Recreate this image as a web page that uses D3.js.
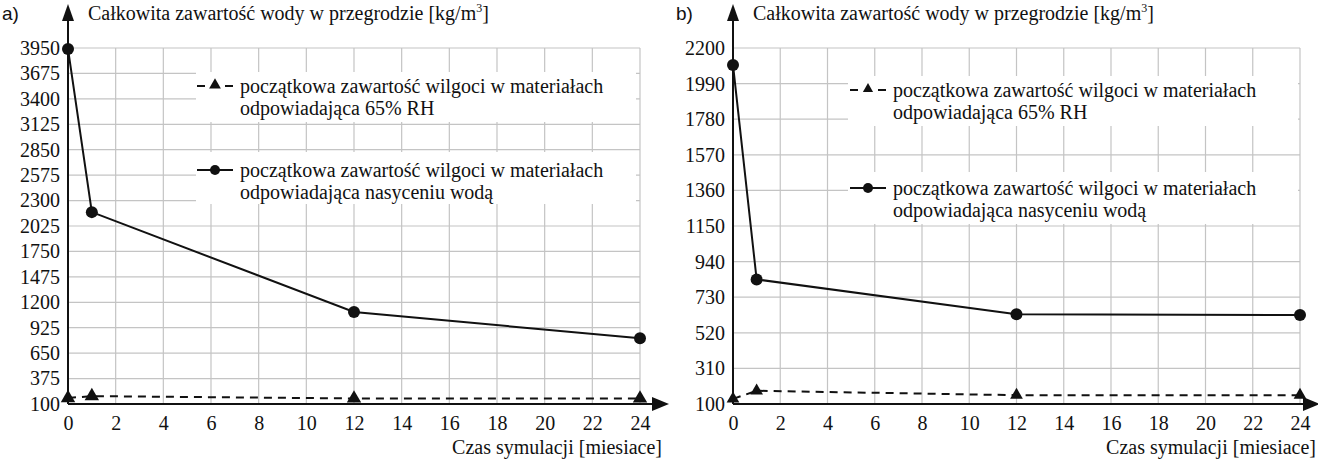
<!DOCTYPE html>
<html>
<head>
<meta charset="utf-8">
<script src="https://cdn.jsdelivr.net/npm/d3@7"></script>
<style>
  html, body { margin: 0; padding: 0; background: #fff; }
  svg { display: block; }
  .serif { font-family: "Liberation Serif", "Times New Roman", "DejaVu Serif", serif; }
</style>
</head>
<body>
<svg id="chart" width="1318" height="460"></svg>
<script>
// ---- data ----
const months = [0, 1, 12, 24];
const xTicks = [0, 2, 4, 6, 8, 10, 12, 14, 16, 18, 20, 22, 24];

const saturatedA = [3940, 2175, 1095, 810];
const rh65A = [165, 185, 160, 160];
const yTicksA = [100, 375, 650, 925, 1200, 1475, 1750, 2025, 2300, 2575, 2850, 3125, 3400, 3675, 3950];

const saturatedB = [2100, 835, 630, 625];
const rh65B = [130, 178, 152, 152];
const yTicksB = [100, 310, 520, 730, 940, 1150, 1360, 1570, 1780, 1990, 2200];

const panelLabels = ["a)", "b)"];
const yTitle = "Całkowita zawartość wody w przegrodzie [kg/m";
const yTitleSup = "3";
const xTitle = "Czas symulacji [miesiace]";
const legendRH = ["początkowa zawartość wilgoci w materiałach", "odpowiadająca 65% RH"];
const legendSat = ["początkowa zawartość wilgoci w materiałach", "odpowiadająca nasyceniu wodą"];

const SERIF = '"Liberation Serif", "Times New Roman", "DejaVu Serif", serif';
const svg = d3.select("#chart");

function drawPanel(cfg) {
  const g = svg.append("g");
  const x = d3.scaleLinear().domain([0, 24]).range([cfg.x0, cfg.x1]);
  const y = d3.scaleLinear().domain([cfg.yTicks[0], cfg.yTicks[cfg.yTicks.length - 1]]).range([cfg.yBottom, cfg.yTop]);

  // grid
  const grid = g.append("g").attr("stroke", "#c4c4c4").attr("stroke-width", 1.2);
  grid.selectAll("line.h").data(cfg.yTicks.slice(1)).join("line")
    .attr("x1", cfg.x0).attr("x2", x(24))
    .attr("y1", d => y(d)).attr("y2", d => y(d));
  grid.selectAll("line.v").data(xTicks.slice(1)).join("line")
    .attr("x1", d => x(d)).attr("x2", d => x(d))
    .attr("y1", y(cfg.yTicks[cfg.yTicks.length - 1])).attr("y2", cfg.yBottom);

  // legend boxes (white background over grid)
  cfg.legendBoxes.forEach(b => {
    g.append("rect").attr("x", b[0]).attr("y", b[1]).attr("width", b[2]).attr("height", b[3]).attr("fill", "#fff");
  });

  // axes with d3 axis generators
  const yAxis = d3.axisLeft(y).tickValues(cfg.yTicks).tickFormat(d3.format("d")).tickSize(0).tickPadding(8);
  const ya = g.append("g").attr("transform", `translate(${cfg.x0},0)`).call(yAxis);
  ya.select(".domain").remove();
  ya.selectAll("text").attr("font-size", null).style("font-size", "20px").style("font-family", SERIF).attr("fill", "#111");

  const xAxis = d3.axisBottom(x).tickValues(xTicks).tickFormat(d3.format("d")).tickSize(0).tickPadding(12);
  const xa = g.append("g").attr("transform", `translate(0,${cfg.yBottom})`).call(xAxis);
  xa.select(".domain").remove();
  xa.selectAll("text").style("font-size", "20px").style("font-family", SERIF).attr("fill", "#111");

  // axis lines + arrows
  g.append("line").attr("x1", cfg.x0).attr("x2", cfg.x0).attr("y1", cfg.yBottom).attr("y2", 12)
    .attr("stroke", "#111").attr("stroke-width", 2);
  g.append("path").attr("d", `M${cfg.x0},4 L${cfg.x0 - 6},21 L${cfg.x0 + 6},21 Z`).attr("fill", "#111");
  g.append("line").attr("x1", cfg.x0).attr("x2", cfg.arrowX - 8).attr("y1", cfg.yBottom).attr("y2", cfg.yBottom)
    .attr("stroke", "#111").attr("stroke-width", 2);
  g.append("path").attr("d", `M${cfg.arrowX},${cfg.yBottom} L${cfg.arrowX - 17},${cfg.yBottom - 7} L${cfg.arrowX - 17},${cfg.yBottom + 7} Z`).attr("fill", "#111");

  // titles
  g.append("text").attr("x", cfg.labelX).attr("y", 20).style("font-size", "19px")
    .style("font-family", '"Liberation Sans", Arial, sans-serif').attr("fill", "#111").text(cfg.label);
  const t = g.append("text").attr("x", cfg.x0 + 20).attr("y", 20)
    .style("font-size", "20px").style("font-family", SERIF).attr("fill", "#111");
  t.append("tspan").text(yTitle);
  t.append("tspan").style("font-size", "12px").attr("dy", -8).text(yTitleSup);
  t.append("tspan").attr("dy", 8).text("]");
  g.append("text").attr("x", cfg.xTitleEnd).attr("y", 454)
    .style("font-size", "20px").style("font-family", SERIF).attr("fill", "#111")
    .attr("text-anchor", "end").text(xTitle);

  // series
  const line = d3.line().x((d, i) => x(months[i])).y(d => y(d));
  g.append("path").datum(cfg.rh).attr("d", line).attr("fill", "none")
    .attr("stroke", "#111").attr("stroke-width", 2).attr("stroke-dasharray", "8,6");
  g.append("path").datum(cfg.sat).attr("d", line).attr("fill", "none")
    .attr("stroke", "#111").attr("stroke-width", 2);
  const tri = d3.symbol().type(d3.symbolTriangle).size(cfg.triSize);
  g.selectAll("path.tri").data(cfg.rh).join("path")
    .attr("transform", (d, i) => `translate(${x(months[i])},${y(d)})`)
    .attr("d", tri).attr("fill", "#111");
  g.selectAll("circle.pt").data(cfg.sat).join("circle")
    .attr("cx", (d, i) => x(months[i])).attr("cy", d => y(d)).attr("r", 6).attr("fill", "#111");

  // legend
  cfg.legends.forEach(L => {
    const lg = g.append("g");
    if (L.type === "dash") {
      lg.append("line").attr("x1", L.sx).attr("x2", L.sx + 8).attr("y1", L.sy).attr("y2", L.sy).attr("stroke", "#111").attr("stroke-width", 2);
      lg.append("line").attr("x1", L.sx + 28).attr("x2", L.sx + 36).attr("y1", L.sy).attr("y2", L.sy).attr("stroke", "#111").attr("stroke-width", 2);
      lg.append("path").attr("transform", `translate(${L.sx + 18},${L.sy - 1})`).attr("d", d3.symbol().type(d3.symbolTriangle).size(cfg.legTri)()).attr("fill", "#111");
    } else {
      lg.append("line").attr("x1", L.sx).attr("x2", L.sx + 36).attr("y1", L.sy).attr("y2", L.sy).attr("stroke", "#111").attr("stroke-width", 2);
      lg.append("circle").attr("cx", L.sx + 18).attr("cy", L.sy).attr("r", 5).attr("fill", "#111");
    }
    L.lines.forEach((s, i) => {
      lg.append("text").attr("x", L.tx).attr("y", L.sy + 7 + i * 21.5)
        .style("font-size", "20px").style("font-family", SERIF).attr("fill", "#111").text(s);
    });
  });
}

drawPanel({
  label: panelLabels[0], labelX: 2,
  x0: 68, x1: 640, arrowX: 669,
  yTop: 48, yBottom: 404,
  yTicks: yTicksA, sat: saturatedA, rh: rh65A,
  xTitleEnd: 662,
  triSize: 90, legTri: 60,
  legendBoxes: [[196, 72, 440, 50], [196, 152, 440, 52]],
  legends: [
    { type: "dash", sx: 197, sy: 86, tx: 240, lines: legendRH },
    { type: "solid", sx: 197, sy: 170, tx: 240, lines: legendSat }
  ]
});

drawPanel({
  label: panelLabels[1], labelX: 676,
  x0: 733, x1: 1300, arrowX: 1320,
  yTop: 48, yBottom: 404,
  yTicks: yTicksB, sat: saturatedB, rh: rh65B,
  xTitleEnd: 1316,
  triSize: 70, legTri: 45,
  legendBoxes: [[848, 76, 450, 50], [848, 172, 450, 52]],
  legends: [
    { type: "dash", sx: 850, sy: 90, tx: 893, lines: legendRH },
    { type: "solid", sx: 850, sy: 188, tx: 893, lines: legendSat }
  ]
});
</script>
</body>
</html>
